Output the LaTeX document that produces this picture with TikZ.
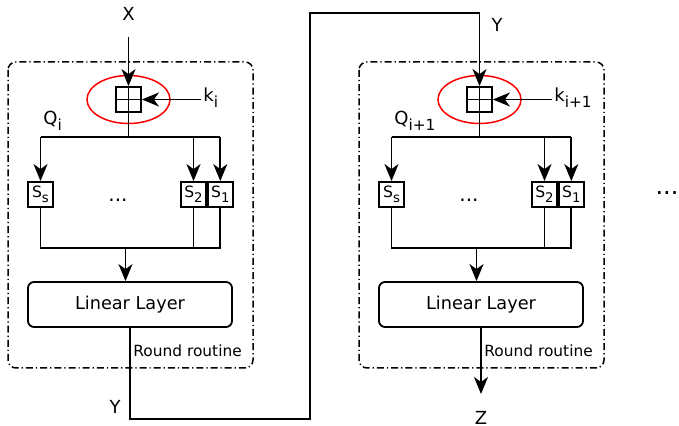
\documentclass[tikz,border=0pt]{standalone}
\usepackage{fontspec}
\setmainfont{DejaVu Sans}
\usetikzlibrary{arrows.meta,shapes.geometric,positioning,calc}
\newcommand{\lsub}[1]{\raisebox{-0.6ex}{\scalebox{0.85}{#1}}}
\tikzset{
  arr/.style={-{Stealth[length=8.5pt,width=7pt,inset=2.5pt]}, line width=0.9pt},
  wire/.style={line width=0.9pt},
  rbox/.style={dash pattern=on 3.5pt off 1.5pt on 0.6pt off 1.5pt, rounded corners=4pt, line width=0.75pt},
  mixbox/.style={draw, line width=0.9pt, minimum size=12.5pt, inner sep=0pt},
  keyring/.style={ellipse, draw=red, line width=0.75pt, minimum width=41.5pt, minimum height=24pt, inner sep=0pt},
  sbox/.style={draw, line width=0.9pt, minimum size=12.5pt, inner sep=0pt, font=\fontsize{7.8}{9}\selectfont},
  linbox/.style={draw, line width=0.9pt, rounded corners=3pt, minimum width=102pt, minimum height=22.5pt, inner sep=0pt, font=\fontsize{8.85}{10}\selectfont},
  lbl/.style={font=\fontsize{9}{11}\selectfont, inner sep=1pt},
  tag/.style={font=\fontsize{7.7}{9}\selectfont, inner sep=0pt},
}
\begin{document}
\begin{tikzpicture}[x=0.5pt, y=-0.5pt]
\useasboundingbox (0,0) rectangle (679,426);
% two round routines
\foreach \dx/\nm/\ix in {0/a/i, 351/b/{i+1}}{
  \draw[rbox] (8+\dx,62) rectangle (253+\dx,368);
  \node[keyring] (ring\nm) at (128.5+\dx,99.5) {};
  \node[mixbox] (mix\nm) at (ring\nm) {};
  \draw[wire] (mix\nm.north) -- (mix\nm.south) (mix\nm.west) -- (mix\nm.east);
  \node[lbl, anchor=base west] (k\nm) at (201+\dx,102) {k\lsub{\ix}};
  \draw[arr] (k\nm.west |- mix\nm.east) -- (mix\nm.east);
  \node[lbl, anchor=base west] (q\nm) at (41+\dx,125) {Q\lsub{\ix}};
  \coordinate (jt\nm) at ($(mix\nm.south)+(0,24)$);
  \node[sbox] (ss\nm) at (40.5+\dx,194.5) {S\lsub{s}};
  \node[sbox] (stwo\nm) at (193.5+\dx,194.5) {S\lsub{2}};
  \node[sbox, right=0pt of stwo\nm] (sone\nm) {S\lsub{1}};
  \node[lbl, anchor=base] (dots\nm) at (118+\dx,202) {\fontsize{10}{12}\selectfont ...};
  \draw[wire] (mix\nm.south) -- (jt\nm);
  \draw[wire] (ss\nm.north |- jt\nm) -- (sone\nm.north |- jt\nm);
  \foreach \s in {ss,stwo,sone}
    \draw[arr] (\s\nm.north |- jt\nm) -- (\s\nm.north);
  \coordinate (jb\nm) at (125.5+\dx,248);
  \draw[wire] (ss\nm.south) |- (sone\nm.south |- jb\nm) -- (sone\nm.south);
  \draw[wire] (stwo\nm.south) -- (stwo\nm.south |- jb\nm);
  \node[linbox] (lin\nm) at (130+\dx,304.5) {Linear Layer};
  \draw[arr] (jb\nm) -- (jb\nm |- lin\nm.north);
  \node[tag, anchor=west] (rr\nm) at (133+\dx,351) {Round routine};
}
% inputs and outputs
\node[lbl] (xlab) at (128.5,14) {X};
\coordinate (xin) at (128.5,37);
\draw[arr] (xin) -- (mixa.north);
\coordinate (ya) at (310,419);
\coordinate (yb) at (310,13);
\draw[arr] (lina.south) |- (ya) -- (yb) -| (mixb.north);
\node[lbl] (yout) at (115,407) {Y};
\node[lbl] (yin) at (497,25) {Y};
\coordinate (zout) at (481,394);
\draw[arr] (linb.south) -- (zout);
\node[lbl] (zlab) at (481,418) {Z};
\node[font=\fontsize{12}{14}\selectfont, anchor=base] (more) at (667,195) {...};
\end{tikzpicture}
\end{document}
